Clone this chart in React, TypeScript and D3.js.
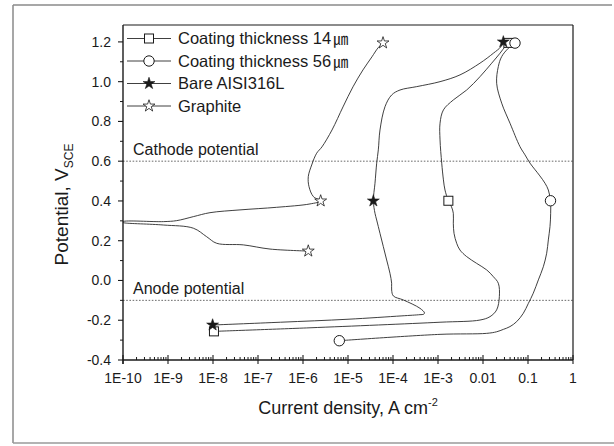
import React from "react";
import * as d3 from "d3";

// ---- data (current density A/cm², potential V_SCE), in scan order ----
const bareCurrent = [9.8e-9, 3.16e-7, 1e-5, 1.58e-4, 3.98e-4, 4.79e-4, 5.01e-4, 3.98e-4, 1.7e-4, 1.02e-4, 9.33e-5, 9.33e-5, 8.57e-5, 7.23e-5, 6.1e-5, 5.14e-5, 4.34e-5, 3.98e-5, 3.66e-5, 3.98e-5, 4.34e-5, 4.72e-5, 5.14e-5, 6.64e-5, 9.33e-5, 1.43e-4, 3.36e-4, 1.11e-3, 3.08e-3, 8.57e-3, 1.7e-2, 2.51e-2, 2.83e-2];
const barePotential = [-0.224, -0.21, -0.195, -0.178, -0.172, -0.17, -0.163, -0.14, -0.098, -0.078, -0.048, -0.014, 0.036, 0.103, 0.17, 0.237, 0.304, 0.338, 0.4, 0.489, 0.59, 0.657, 0.757, 0.874, 0.933, 0.958, 0.975, 1.0, 1.034, 1.093, 1.143, 1.176, 1.2];

const c14Current = [1.05e-8, 1.43e-6, 1.11e-3, 8.57e-3, 1.43e-2, 2.01e-2, 2.31e-2, 2.19e-2, 1.7e-2, 1.21e-2, 7.23e-3, 4.34e-3, 3.08e-3, 2.6e-3, 2.27e-3, 2.19e-3, 2.19e-3, 2.0e-3, 1.7e-3, 1.43e-3, 1.32e-3, 1.21e-3, 1.11e-3, 1.11e-3, 1.32e-3, 2.19e-3, 4.34e-3, 8.57e-3, 1.56e-2, 2.39e-2, 3.08e-2, 3.66e-2];
const c14Potential = [-0.256, -0.238, -0.21, -0.199, -0.182, -0.148, -0.081, -0.014, 0.019, 0.053, 0.086, 0.12, 0.153, 0.187, 0.237, 0.288, 0.338, 0.37, 0.401, 0.455, 0.506, 0.59, 0.707, 0.791, 0.858, 0.908, 0.958, 1.025, 1.093, 1.143, 1.176, 1.195];

const c56Current = [6.41e-6, 1.11e-3, 1.21e-2, 2.01e-2, 2.83e-2, 3.98e-2, 5.6e-2, 7.87e-2, 0.102, 0.131, 0.17, 0.219, 0.26, 0.283, 0.308, 0.319, 0.316, 0.283, 0.239, 0.178, 0.111, 8.57e-2, 6.64e-2, 3.98e-2, 2.6e-2, 2.01e-2, 2.19e-2, 2.6e-2, 3.66e-2, 5.14e-2];
const c56Potential = [-0.303, -0.271, -0.266, -0.258, -0.246, -0.232, -0.207, -0.165, -0.115, -0.064, 0.003, 0.069, 0.137, 0.204, 0.271, 0.338, 0.401, 0.455, 0.489, 0.53, 0.59, 0.632, 0.673, 0.791, 0.892, 0.992, 1.076, 1.126, 1.168, 1.194];

const graphiteCurrent = [1.31e-6, 1.85e-7, 4.72e-8, 1.21e-8, 7.24e-9, 3.65e-9, 7.87e-10, 1.05e-10, 1.0e-10, 1.0e-10, 7.87e-10, 1.56e-9, 3.65e-9, 8.57e-9, 3.98e-8, 2.6e-7, 1.43e-6, 2.47e-6, 1.7e-6, 1.36e-6, 1.31e-6, 1.56e-6, 2.01e-6, 2.64e-6, 4.41e-6, 7.74e-6, 1.29e-5, 2.15e-5, 3.41e-5, 4.65e-5, 6.0e-5];
const graphitePotential = [0.148, 0.158, 0.179, 0.187, 0.22, 0.263, 0.279, 0.29, 0.292, 0.296, 0.296, 0.301, 0.321, 0.341, 0.355, 0.368, 0.385, 0.4, 0.422, 0.472, 0.522, 0.581, 0.64, 0.672, 0.757, 0.873, 0.974, 1.059, 1.125, 1.17, 1.195];

// marker indices (start, 0.4 V, end) into each series
const bareMarkers = [0, 18, 32];
const c14Markers = [0, 18, 31];
const c56Markers = [0, 16, 29];
const graphiteMarkers = [0, 17, 30];

const legendLabels = ["Coating thickness 14", "Coating thickness 56", "Bare AISI316L", "Graphite"];
const legendUnits = ["㎛", "㎛", "", ""];

const xTickValues = [1e-10, 1e-9, 1e-8, 1e-7, 1e-6, 1e-5, 1e-4, 1e-3, 1e-2, 1e-1, 1];
const xTickLabels = ["1E-10", "1E-9", "1E-8", "1E-7", "1E-6", "1E-5", "1E-4", "1E-3", "0.01", "0.1", "1"];
const yTickValues = [-0.4, -0.2, 0.0, 0.2, 0.4, 0.6, 0.8, 1.0, 1.2];
const yTickLabels = ["-0.4", "-0.2", "0.0", "0.2", "0.4", "0.6", "0.8", "1.0", "1.2"];

const refLines = [
  { v: 0.6, label: "Cathode potential" },
  { v: -0.1, label: "Anode potential" },
];

const W = 614;
const H = 446;
const M = { left: 123, right: 573, top: 25, bottom: 360 };
const FONT = "'Liberation Sans', Arial, Helvetica, sans-serif";
const INK = "#1a1a1a";

type Kind = "square" | "circle" | "starFilled" | "starOpen";

function Marker({ kind, x, y }: { kind: Kind; x: number; y: number }) {
  if (kind === "square") {
    return <rect x={x - 4.5} y={y - 4.5} width={9} height={9} fill="#fff" stroke={INK} strokeWidth={1} />;
  }
  if (kind === "circle") {
    return <circle cx={x} cy={y} r={5.2} fill="#fff" stroke={INK} strokeWidth={1} />;
  }
  const p = d3.symbol().type(d3.symbolStar).size(44)() as string;
  return (
    <path
      d={p}
      transform={`translate(${x},${y})`}
      fill={kind === "starFilled" ? INK : "#fff"}
      stroke={INK}
      strokeWidth={kind === "starFilled" ? 0.6 : 0.8}
      strokeLinejoin="miter"
    />
  );
}

export default function App() {
  const x = d3.scaleLog().domain([1e-10, 1]).range([M.left, M.right]);
  const y = d3.scaleLinear().domain([-0.4, 1.285]).range([M.bottom, M.top]);

  const series: { cur: number[]; pot: number[]; marks: number[]; kind: Kind }[] = [
    { cur: c14Current, pot: c14Potential, marks: c14Markers, kind: "square" },
    { cur: c56Current, pot: c56Potential, marks: c56Markers, kind: "circle" },
    { cur: bareCurrent, pot: barePotential, marks: bareMarkers, kind: "starFilled" },
    { cur: graphiteCurrent, pot: graphitePotential, marks: graphiteMarkers, kind: "starOpen" },
  ];

  const line = d3
    .line<[number, number]>()
    .x((d) => x(d[0]))
    .y((d) => y(d[1]))
    .curve(d3.curveCatmullRom.alpha(0.5));

  // minor ticks
  const xMinor: number[] = [];
  for (let e = -10; e < 0; e++) {
    for (let k = 2; k <= 9; k++) xMinor.push(k * Math.pow(10, e));
  }
  const yMinor = d3.range(-0.3, 1.25, 0.2);

  const legendY0 = 38.5;
  const legendDy = 22.5;

  return (
    <svg
      width={W}
      height={H}
      viewBox={`0 0 ${W} ${H}`}
      style={{ position: "absolute", left: 0, top: 0, background: "#fff" }}
      fontFamily={FONT}
    >
      <rect x={0} y={0} width={W} height={H} fill="#fff" />
      {/* outer frame */}
      <line x1={13} y1={5} x2={612} y2={5} stroke="#8a8a8a" strokeWidth={1.5} />
      <line x1={13} y1={5} x2={13} y2={443} stroke="#8a8a8a" strokeWidth={1.5} />
      <line x1={13} y1={443} x2={614} y2={443} stroke="#9a9a9a" strokeWidth={1.5} />

      <defs>
        <clipPath id="plotclip">
          <rect x={M.left} y={M.top} width={M.right - M.left} height={M.bottom - M.top} />
        </clipPath>
      </defs>

      {/* reference lines */}
      {refLines.map((r) => (
        <g key={r.label}>
          <line
            x1={M.left}
            x2={M.right}
            y1={y(r.v)}
            y2={y(r.v)}
            stroke="#444"
            strokeWidth={0.8}
            strokeDasharray="1.6,1.6"
          />
          <text x={133} y={y(r.v) - 6.5} fontSize={16} fill={INK}>
            {r.label}
          </text>
        </g>
      ))}

      {/* curves */}
      <g clipPath="url(#plotclip)">
        {series.map((s, i) => (
          <path
            key={i}
            d={line(s.cur.map((c, j) => [c, s.pot[j]] as [number, number])) as string}
            fill="none"
            stroke="#2a2a2a"
            strokeWidth={0.9}
          />
        ))}
      </g>
      {series.map((s, i) => (
        <g key={"m" + i}>
          {s.marks.map((j) => (
            <Marker key={j} kind={s.kind} x={x(s.cur[j])} y={y(s.pot[j])} />
          ))}
        </g>
      ))}

      {/* plot box */}
      <line x1={M.left} x2={M.right} y1={M.top} y2={M.top} stroke={INK} strokeWidth={1.2} />
      <line x1={M.right} x2={M.right} y1={M.top} y2={M.bottom} stroke={INK} strokeWidth={1.2} />
      <line x1={M.left} x2={M.left} y1={M.top} y2={M.bottom + 4} stroke={INK} strokeWidth={1.4} />
      <line x1={M.left} x2={M.right} y1={M.bottom} y2={M.bottom} stroke={INK} strokeWidth={1.4} />

      {/* x ticks */}
      {xTickValues.map((v, i) => (
        <g key={"xt" + i}>
          <line x1={x(v)} x2={x(v)} y1={M.bottom - 5} y2={M.bottom + 4} stroke={INK} strokeWidth={1.1} />
          <text x={x(v)} y={M.bottom + 23} fontSize={14} textAnchor="middle" fill={INK}>
            {xTickLabels[i]}
          </text>
        </g>
      ))}
      {xMinor.map((v, i) => (
        <line key={"xm" + i} x1={x(v)} x2={x(v)} y1={M.bottom - 3} y2={M.bottom} stroke={INK} strokeWidth={1} />
      ))}

      {/* y ticks */}
      {yTickValues.map((v, i) => (
        <g key={"yt" + i}>
          <line x1={M.left - 5} x2={M.left} y1={y(v)} y2={y(v)} stroke={INK} strokeWidth={1.1} />
          <text x={M.left - 12} y={y(v) + 5} fontSize={14} textAnchor="end" fill={INK}>
            {yTickLabels[i]}
          </text>
        </g>
      ))}
      {yMinor.map((v, i) => (
        <line key={"ym" + i} x1={M.left - 3} x2={M.left} y1={y(v)} y2={y(v)} stroke={INK} strokeWidth={1} />
      ))}

      {/* axis titles */}
      <text x={(M.left + M.right) / 2} y={414} fontSize={18} textAnchor="middle" fill={INK}>
        Current density, A cm
        <tspan fontSize={11} dy={-8}>
          -2
        </tspan>
      </text>
      <text
        transform={`translate(${68},${(M.top + M.bottom) / 2 + 12}) rotate(-90)`}
        fontSize={19}
        textAnchor="middle"
        fill={INK}
      >
        Potential, V
        <tspan fontSize={12} dy={5}>
          SCE
        </tspan>
      </text>

      {/* legend */}
      {series.map((s, i) => {
        const ly = legendY0 + i * legendDy;
        return (
          <g key={"lg" + i}>
            <line x1={127} x2={171} y1={ly} y2={ly} stroke="#2a2a2a" strokeWidth={0.9} />
            <Marker kind={s.kind} x={149} y={ly} />
            <text x={178} y={ly + 5.5} fontSize={16.5} fill={INK}>
              {legendLabels[i]}
              {legendUnits[i] ? (
                <tspan fontFamily="'Noto Sans CJK KR', sans-serif" fontSize={15} dx={2}>
                  {legendUnits[i]}
                </tspan>
              ) : null}
            </text>
          </g>
        );
      })}
    </svg>
  );
}
